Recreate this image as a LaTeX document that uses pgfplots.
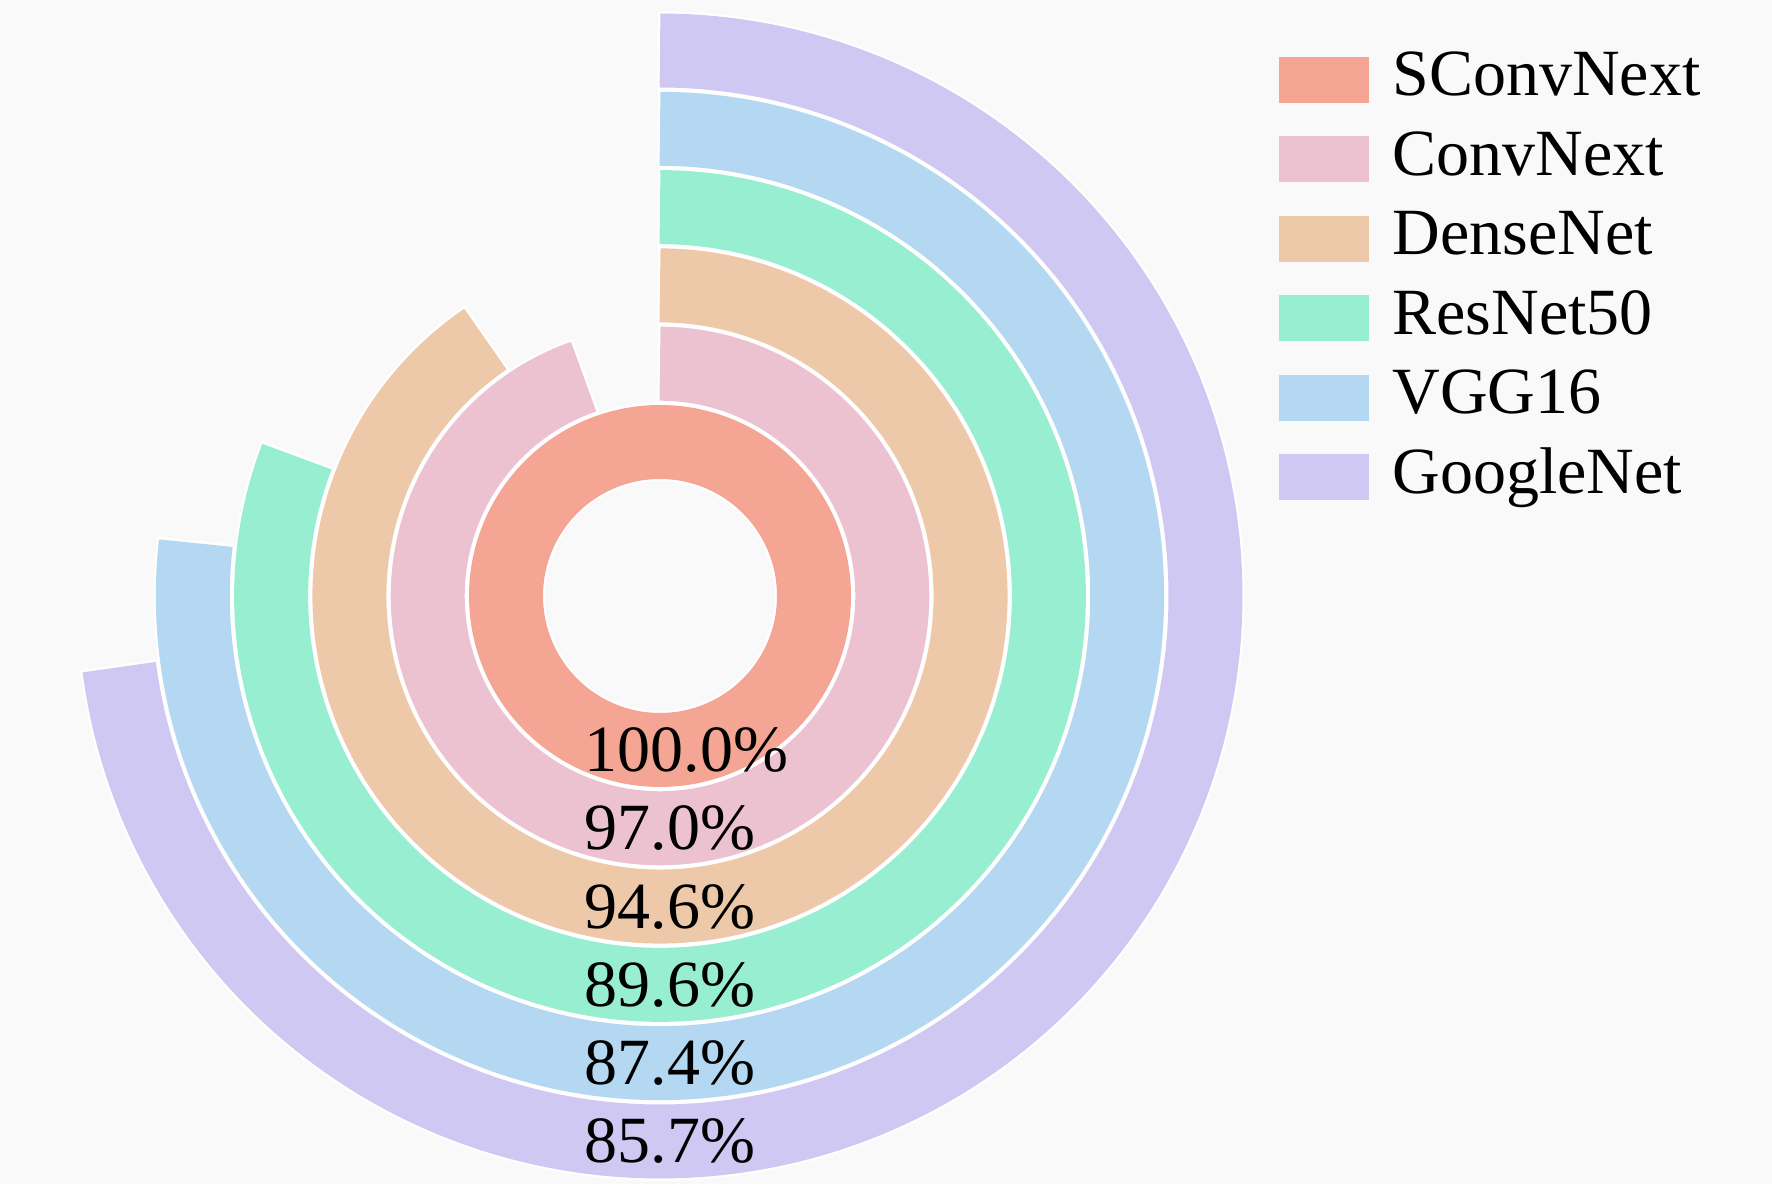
\documentclass[border=0pt]{standalone}
\usepackage{pgfplots}
\pgfplotsset{compat=1.18}
\usepackage{fontspec}
\setmainfont{Liberation Serif}
\definecolor{bg}{HTML}{F9F9F9}
\definecolor{cA}{HTML}{F5A594}
\definecolor{cB}{HTML}{ECC2D1}
\definecolor{cC}{HTML}{EDC8A9}
\definecolor{cD}{HTML}{98EED1}
\definecolor{cE}{HTML}{B4D8F2}
\definecolor{cF}{HTML}{CEC8F2}
\begin{document}
\begin{tikzpicture}
\fill[bg] (0,0) rectangle (708.8pt,473.6pt);
\begin{axis}[
  at={(0,0)}, anchor=south west,
  scale only axis, width=708.8pt, height=473.6pt,
  xmin=0, xmax=1772, ymin=-1184, ymax=0,
  hide axis, clip=false,
  legend style={at={(axis cs:1278,-48)}, anchor=north west, draw=none, fill=none,
    font=\fontsize{26.4}{31.8}\selectfont, inner sep=0pt, row sep=6.8pt,
    nodes={inner sep=0pt, text height=19pt, text depth=6pt},
    /tikz/every odd column/.append style={column sep=9.6pt}},
  legend cell align=left,
  legend image code/.code={\fill[#1, draw=none] (0pt,-9.2pt) rectangle (36pt,9.2pt);},
  ring/.style={line width=29.6pt, line cap=butt, samples=241, variable=\t, forget plot},
  under/.style={line width=31.4pt, line cap=butt, samples=241, variable=\t, forget plot, draw=white},
]
% white outlines (gaps between the rings)
\addplot[under, domain=-0.6:361] ({660+154*cos(90-\t)},{-596+154*sin(90-\t)});
\addplot[under, domain=-0.62:341.42] ({660+232.3*cos(90-\t)},{-596+232.3*sin(90-\t)});
\addplot[under, domain=-0.46:326.26] ({660+310.6*cos(90-\t)},{-596+310.6*sin(90-\t)});
\addplot[under, domain=-0.37:291.37] ({660+388.9*cos(90-\t)},{-596+388.9*sin(90-\t)});
\addplot[under, domain=-0.31:276.81] ({660+467.2*cos(90-\t)},{-596+467.2*sin(90-\t)});
\addplot[under, domain=-0.26:262.76] ({660+545.5*cos(90-\t)},{-596+545.5*sin(90-\t)});
% rings: sweep in degrees (clockwise from top)
\addplot[ring, draw=cA, domain=0:361]   ({660+154*cos(90-\t)},{-596+154*sin(90-\t)});
\addplot[ring, draw=cB, domain=0:340.8] ({660+232.3*cos(90-\t)},{-596+232.3*sin(90-\t)});
\addplot[ring, draw=cC, domain=0:325.8] ({660+310.6*cos(90-\t)},{-596+310.6*sin(90-\t)});
\addplot[ring, draw=cD, domain=0:291.0] ({660+388.9*cos(90-\t)},{-596+388.9*sin(90-\t)});
\addplot[ring, draw=cE, domain=0:276.5] ({660+467.2*cos(90-\t)},{-596+467.2*sin(90-\t)});
\addplot[ring, draw=cF, domain=0:262.5] ({660+545.5*cos(90-\t)},{-596+545.5*sin(90-\t)});
% value labels
\addplot[only marks, mark=none, forget plot, point meta=explicit symbolic,
  nodes near coords, nodes near coords style={anchor=west, inner sep=0pt, text=black,
  font=\fontsize{26.4}{31.8}\selectfont}]
  coordinates {(584,-750)[100.0\%] (584,-828.3)[97.0\%] (584,-906.6)[94.6\%]
               (584,-984.9)[89.6\%] (584,-1063.2)[87.4\%] (584,-1141.5)[85.7\%]};
% legend
\addlegendimage{fill=cA}\addlegendentry{SConvNext}
\addlegendimage{fill=cB}\addlegendentry{ConvNext}
\addlegendimage{fill=cC}\addlegendentry{DenseNet}
\addlegendimage{fill=cD}\addlegendentry{ResNet50}
\addlegendimage{fill=cE}\addlegendentry{VGG16}
\addlegendimage{fill=cF}\addlegendentry{GoogleNet}
\end{axis}
\end{tikzpicture}
\end{document}
